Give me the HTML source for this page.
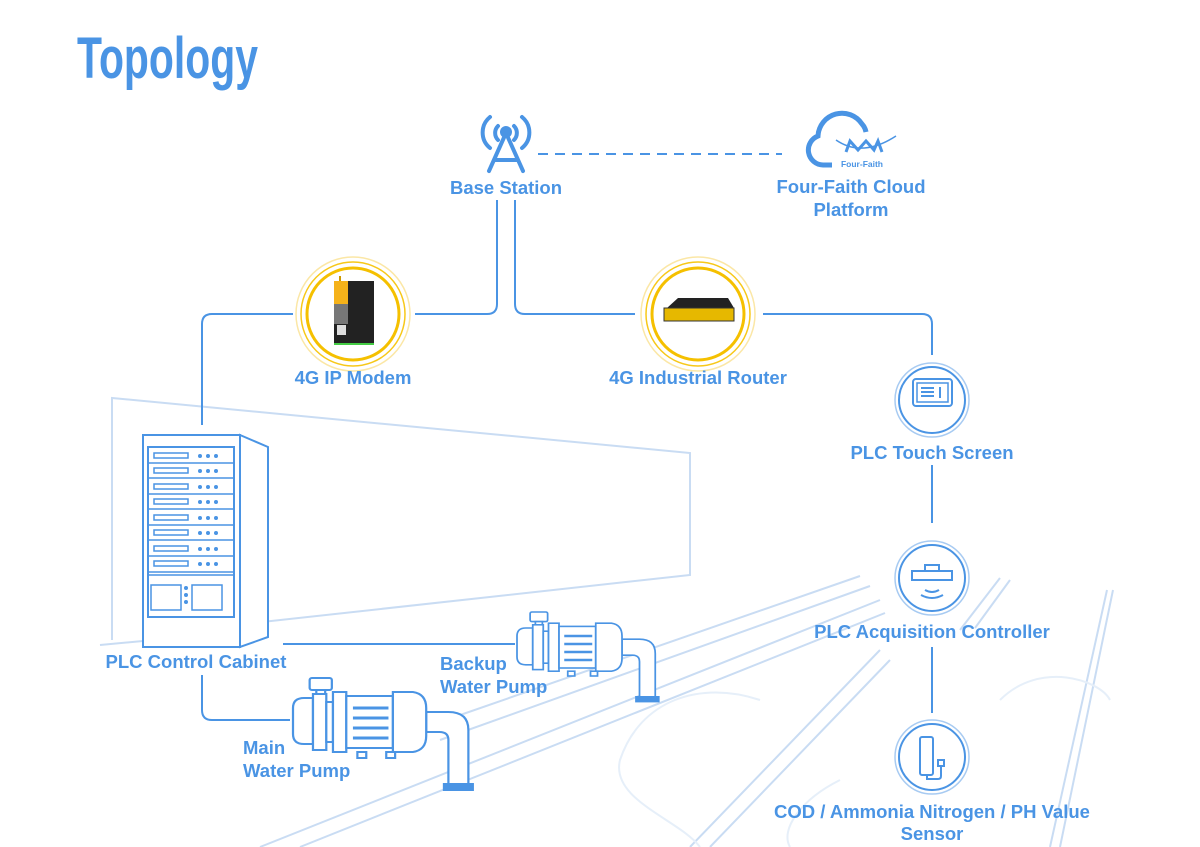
<!DOCTYPE html>
<html><head><meta charset="utf-8"><style>
html,body{margin:0;padding:0;background:#fff;}
svg{display:block;}
text{font-family:"Liberation Sans",Arial,sans-serif;font-weight:bold;fill:#4a94e4;}
</style></head><body>
<svg width="1200" height="847" viewBox="0 0 1200 847" xmlns="http://www.w3.org/2000/svg">
<!-- background perspective -->
<g stroke="#c9dcf3" stroke-width="2" fill="none">
<polyline points="112,640 112,398 690,453 690,575 253,623"/>
<line x1="100" y1="645" x2="143" y2="641"/>
<line x1="440" y1="722" x2="860" y2="576"/>
<line x1="440" y1="740" x2="870" y2="586"/>
<line x1="260" y1="847" x2="880" y2="600"/>
<line x1="300" y1="847" x2="885" y2="613"/>
<line x1="690" y1="847" x2="880" y2="650"/>
<line x1="710" y1="847" x2="890" y2="660"/>
<line x1="960" y1="630" x2="1000" y2="578"/>
<line x1="975" y1="628" x2="1010" y2="580"/>
<line x1="1050" y1="847" x2="1107" y2="590"/>
<line x1="1060" y1="847" x2="1113" y2="590"/>
</g>
<g stroke="#e6eff9" stroke-width="2" fill="none">
<path d="M760,700 C700,680 640,700 620,760 C610,800 680,820 700,847"/>
<path d="M1000,700 C1040,660 1100,680 1110,700"/>
<path d="M840,780 C800,800 780,830 790,847"/>
</g>
<!-- title -->
<text x="77" y="78" font-family="'Liberation Sans Narrow','Liberation Sans',sans-serif" font-size="58" textLength="181" lengthAdjust="spacingAndGlyphs" style="fill:#4a94e4">Topology</text>

<!-- connectors -->
<g stroke="#4a94e4" stroke-width="2" fill="none">
<line x1="538" y1="154" x2="782" y2="154" stroke-dasharray="10,7"/>
<path d="M497,200 V304 Q497,314 487,314 H415"/>
<path d="M515,200 V304 Q515,314 525,314 H635"/>
<path d="M763,314 H922 Q932,314 932,324 V355"/>
<path d="M293,314 H212 Q202,314 202,324 V425"/>
<line x1="932" y1="465" x2="932" y2="523"/>
<line x1="932" y1="647" x2="932" y2="713"/>
<line x1="283" y1="644" x2="515" y2="644"/>
<path d="M202,675 V710 Q202,720 212,720 H290"/>
</g>

<!-- base station -->
<g stroke="#4a94e4" stroke-width="4" fill="none" stroke-linecap="round">
<path d="M490,117 A20,20 0 0 0 490,148"/>
<path d="M522,117 A20,20 0 0 1 522,148"/>
<path d="M498,126 A10,10 0 0 0 498,140"/>
<path d="M514,126 A10,10 0 0 1 514,140"/>
<path d="M506,133 L489,171 M506,133 L523,171 M494,160 H518"/>
</g>
<circle cx="506" cy="132" r="6" fill="#4a94e4"/>
<text x="506" y="194" font-size="18.5" text-anchor="middle">Base Station</text>

<!-- cloud -->
<path d="M832,165 H823 A15,15 0 0 1 818,136 A24,24 0 0 1 862,124 A16,16 0 0 1 866,132" stroke="#4a94e4" stroke-width="5" fill="none"/>
<path d="M836,140 Q862,158 896,136" stroke="#4a94e4" stroke-width="1.5" fill="none"/>
<path d="M846,152 L850,141 L858,150 L866,141 L874,150 L878,141 L882,152" stroke="#4a94e4" stroke-width="3" fill="none"/>
<text x="862" y="167" font-size="8.5" text-anchor="middle">Four-Faith</text>
<text x="851" y="193" font-size="18.5" text-anchor="middle">Four-Faith Cloud</text>
<text x="851" y="216" font-size="18.5" text-anchor="middle">Platform</text>

<!-- modem -->
<circle cx="353" cy="314" r="57" fill="none" stroke="#fbe7a6" stroke-width="1.5"/>
<circle cx="353" cy="314" r="52" fill="none" stroke="#f7c819" stroke-width="1.5"/>
<circle cx="353" cy="314" r="46" fill="#fff" stroke="#f5c000" stroke-width="3"/>
<rect x="334" y="281" width="40" height="63" fill="#222"/>
<rect x="334" y="281" width="14" height="23" fill="#f5b21a"/>
<rect x="334" y="304" width="14" height="20" fill="#777"/>
<rect x="337" y="325" width="9" height="10" fill="#ddd"/>
<rect x="334" y="343" width="40" height="2" fill="#4c4"/>
<line x1="340" y1="281" x2="340" y2="276" stroke="#c90" stroke-width="2"/>
<text x="353" y="384" font-size="18.5" text-anchor="middle">4G IP Modem</text>

<!-- router -->
<circle cx="698" cy="314" r="57" fill="none" stroke="#fbe7a6" stroke-width="1.5"/>
<circle cx="698" cy="314" r="52" fill="none" stroke="#f7c819" stroke-width="1.5"/>
<circle cx="698" cy="314" r="46" fill="#fff" stroke="#f5c000" stroke-width="3"/>
<polygon points="667,308 678,298 728,298 734,308" fill="#222"/>
<rect x="664" y="308" width="70" height="13" fill="#e6b800" stroke="#333"/>
<text x="698" y="384" font-size="18.5" text-anchor="middle">4G Industrial Router</text>

<!-- touch screen -->
<circle cx="932" cy="400" r="37" fill="#fff" stroke="#a8cbf2" stroke-width="1.5"/>
<circle cx="932" cy="400" r="33" fill="none" stroke="#4a94e4" stroke-width="2"/>
<rect x="913" y="379" width="39" height="27" rx="3" fill="none" stroke="#4a94e4" stroke-width="2"/>
<rect x="917" y="383" width="31" height="19" fill="none" stroke="#4a94e4" stroke-width="1.5"/>
<path d="M921,388 H934 M921,392 H934 M921,396 H934 M940,387 V398" stroke="#4a94e4" stroke-width="2"/>
<text x="932" y="459" font-size="18.5" text-anchor="middle">PLC Touch Screen</text>

<!-- acquisition -->
<circle cx="932" cy="578" r="37" fill="#fff" stroke="#a8cbf2" stroke-width="1.5"/>
<circle cx="932" cy="578" r="33" fill="none" stroke="#4a94e4" stroke-width="2"/>
<rect x="912" y="571" width="40" height="9" fill="none" stroke="#4a94e4" stroke-width="2"/>
<rect x="925" y="565" width="14" height="6" fill="none" stroke="#4a94e4" stroke-width="2"/>
<path d="M925,590 Q932,594 939,590 M921,595 Q932,601 943,595" stroke="#4a94e4" stroke-width="2" fill="none"/>
<text x="932" y="638" font-size="18.5" text-anchor="middle">PLC Acquisition Controller</text>

<!-- sensor -->
<circle cx="932" cy="757" r="37" fill="#fff" stroke="#a8cbf2" stroke-width="1.5"/>
<circle cx="932" cy="757" r="33" fill="none" stroke="#4a94e4" stroke-width="2"/>
<rect x="920" y="737" width="13" height="38" rx="2" fill="none" stroke="#4a94e4" stroke-width="2"/>
<path d="M927,775 V779 H938 Q941,779 941,776 V766 M938,760 H944 V766 H938 Z" stroke="#4a94e4" stroke-width="2" fill="none"/>
<text x="932" y="818" font-size="18.5" text-anchor="middle">COD / Ammonia Nitrogen / PH Value</text>
<text x="932" y="840" font-size="18.5" text-anchor="middle">Sensor</text>

<!-- cabinet -->
<g stroke="#4a94e4" stroke-width="2" fill="#fff">
<polygon points="240,435 268,447 268,637 240,647"/>
<rect x="143" y="435" width="97" height="212"/>
<rect x="148" y="447" width="86" height="170" fill="none"/>
</g>
<g stroke="#4a94e4" stroke-width="1.5" fill="none">
<path d="M148,463 H234 M148,478 H234 M148,494 H234 M148,509 H234 M148,525 H234 M148,540 H234 M148,556 H234 M148,572 H234 M148,575 H234"/>
<rect x="154" y="453" width="34" height="5"/><rect x="154" y="468" width="34" height="5"/>
<rect x="154" y="484" width="34" height="5"/><rect x="154" y="499" width="34" height="5"/>
<rect x="154" y="515" width="34" height="5"/><rect x="154" y="530" width="34" height="5"/>
<rect x="154" y="546" width="34" height="5"/><rect x="154" y="561" width="34" height="5"/>
<rect x="151" y="585" width="30" height="25"/><rect x="192" y="585" width="30" height="25"/>
</g>
<g fill="#4a94e4">
<circle cx="200" cy="456" r="2"/><circle cx="208" cy="456" r="2"/><circle cx="216" cy="456" r="2"/>
<circle cx="200" cy="471" r="2"/><circle cx="208" cy="471" r="2"/><circle cx="216" cy="471" r="2"/>
<circle cx="200" cy="487" r="2"/><circle cx="208" cy="487" r="2"/><circle cx="216" cy="487" r="2"/>
<circle cx="200" cy="502" r="2"/><circle cx="208" cy="502" r="2"/><circle cx="216" cy="502" r="2"/>
<circle cx="200" cy="518" r="2"/><circle cx="208" cy="518" r="2"/><circle cx="216" cy="518" r="2"/>
<circle cx="200" cy="533" r="2"/><circle cx="208" cy="533" r="2"/><circle cx="216" cy="533" r="2"/>
<circle cx="200" cy="549" r="2"/><circle cx="208" cy="549" r="2"/><circle cx="216" cy="549" r="2"/>
<circle cx="200" cy="564" r="2"/><circle cx="208" cy="564" r="2"/><circle cx="216" cy="564" r="2"/>
<circle cx="186" cy="588" r="2"/><circle cx="186" cy="595" r="2"/><circle cx="186" cy="602" r="2"/>
</g>
<text x="196" y="668" font-size="18.5" text-anchor="middle">PLC Control Cabinet</text>

<!-- pump template -->
<defs>
<g id="pump" stroke="#4a94e4" stroke-width="2" fill="#fff">
<path d="M120,34 H140 Q158,34 158,52 V108 H140 V62 Q140,54 132,54 H120 Z"/>
<rect x="136" y="106" width="26" height="6" fill="#4a94e4"/>
<path d="M0,30 Q0,20 10,20 H18 V66 H10 Q0,66 0,56 Z"/>
<rect x="15" y="0" width="20" height="12" rx="2"/><rect x="21" y="12" width="8" height="6"/>
<rect x="18" y="16" width="12" height="56"/>
<rect x="30" y="24" width="6" height="40"/>
<rect x="36" y="14" width="12" height="60"/>
<rect x="48" y="18" width="42" height="52"/>
<path d="M54,30 H86 M54,40 H86 M54,50 H86 M54,60 H86" stroke-width="3"/>
<path d="M90,14 H108 Q120,16 120,30 V58 Q120,72 108,74 H90 Z"/>
<rect x="58" y="74" width="8" height="6"/><rect x="84" y="74" width="8" height="6"/>
</g>
</defs>
<use href="#pump" transform="translate(293,678) scale(1.11,1)"/>
<use href="#pump" transform="translate(517,612) scale(0.875,0.8)"/>
<text x="243" y="754" font-size="18.5">Main</text>
<text x="243" y="777" font-size="18.5">Water Pump</text>
<text x="440" y="670" font-size="18.5">Backup</text>
<text x="440" y="693" font-size="18.5">Water Pump</text>
</svg>
</body></html>
